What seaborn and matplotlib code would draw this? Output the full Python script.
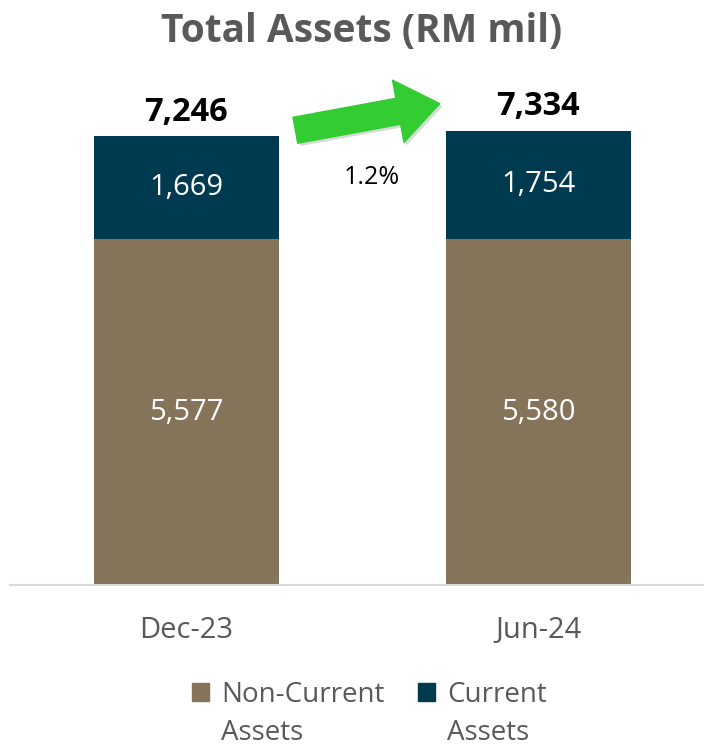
import numpy as np
import pandas as pd
import matplotlib.pyplot as plt
import matplotlib.patheffects as pe
from matplotlib.patches import Patch
import seaborn as sns

# data
periods = ["Dec-23", "Jun-24"]
non_current = [5577, 5580]
current = [1669, 1754]
totals = [7246, 7334]
growth_label = "1.2%"
legend_first = ["Non-Current", "Current"]
legend_second = ["Assets", "Assets"]

brown = "#85735A"
teal = "#003A50"
grey = "#595959"

sns.set_style("white")
plt.rcParams['font.family'] = ['Open Sans', 'DejaVu Sans']

df = pd.DataFrame({"period": periods, "non_current": non_current,
                   "current": current, "total": totals})

fig = plt.figure(figsize=(7.04, 7.51), dpi=100)
ax = fig.add_axes([10 / 704, 166 / 751, 694 / 704, 508 / 751])

# stacked: full total in teal, non-current drawn over it
sns.barplot(data=df, x="period", y="total", color=teal, width=0.525,
            saturation=1, linewidth=0, edgecolor="none", ax=ax)
sns.barplot(data=df, x="period", y="non_current", color=brown, width=0.525,
            saturation=1, linewidth=0, edgecolor="none", ax=ax)

ax.set_xlim(-0.5, 1.47)
ax.set_ylim(0, 8200)
ax.set_xlabel("")
ax.set_ylabel("")
ax.set_yticks([])
sns.despine(ax=ax, left=True)
ax.spines["bottom"].set_color("#D9D9D9")
ax.spines["bottom"].set_linewidth(1.5)
ax.tick_params(axis="x", length=0, pad=22, labelsize=21, labelcolor=grey)

# labels
for i, row in df.iterrows():
    ax.text(i, row["non_current"] / 2, f"{row['non_current']:,}", ha="center",
            va="center", color="white", fontsize=21)
    ax.text(i, row["non_current"] + row["current"] / 2, f"{row['current']:,}",
            ha="center", va="center", color="white", fontsize=21)
    ax.text(i, row["total"] + 120, f"{row['total']:,}", ha="center",
            va="bottom", color="black", fontsize=23.5, fontweight="bold")

# growth arrow
ax.annotate("", xy=(0.72, 7770), xytext=(0.31, 7340),
            arrowprops=dict(arrowstyle="simple,head_width=1.2,head_length=0.8,tail_width=0.5",
                            color="#33CC33", mutation_scale=38, shrinkA=0, shrinkB=0,
                            path_effects=[pe.SimplePatchShadow(offset=(2, -2), alpha=0.18),
                                          pe.Normal()]))
ax.text(0.526, 6580, growth_label, ha="center", va="center", fontsize=18, color="black")

fig.text(0.514, 0.958, "Total Assets (RM mil)", ha="center", va="center",
         fontsize=28, fontweight="bold", color=grey)

handles = [Patch(color=brown), Patch(color=teal)]
leg = fig.legend(handles, legend_first, loc="center",
                 bbox_to_anchor=(0.525, 0.075), ncol=2, frameon=False, fontsize=20,
                 labelcolor=grey, handlelength=0.6, handleheight=0.6, handletextpad=0.45,
                 columnspacing=1.2)

# second line of each legend label, aligned under the first
fig.canvas.draw()
inv = fig.transFigure.inverted()
for txt, second in zip(leg.get_texts(), legend_second):
    bb = txt.get_window_extent()
    x0, y0 = inv.transform((bb.x0, bb.y0))
    fig.text(x0, y0 - 0.051, second, ha="left", va="bottom", fontsize=20, color=grey)

plt.savefig("out.png", dpi=100)
